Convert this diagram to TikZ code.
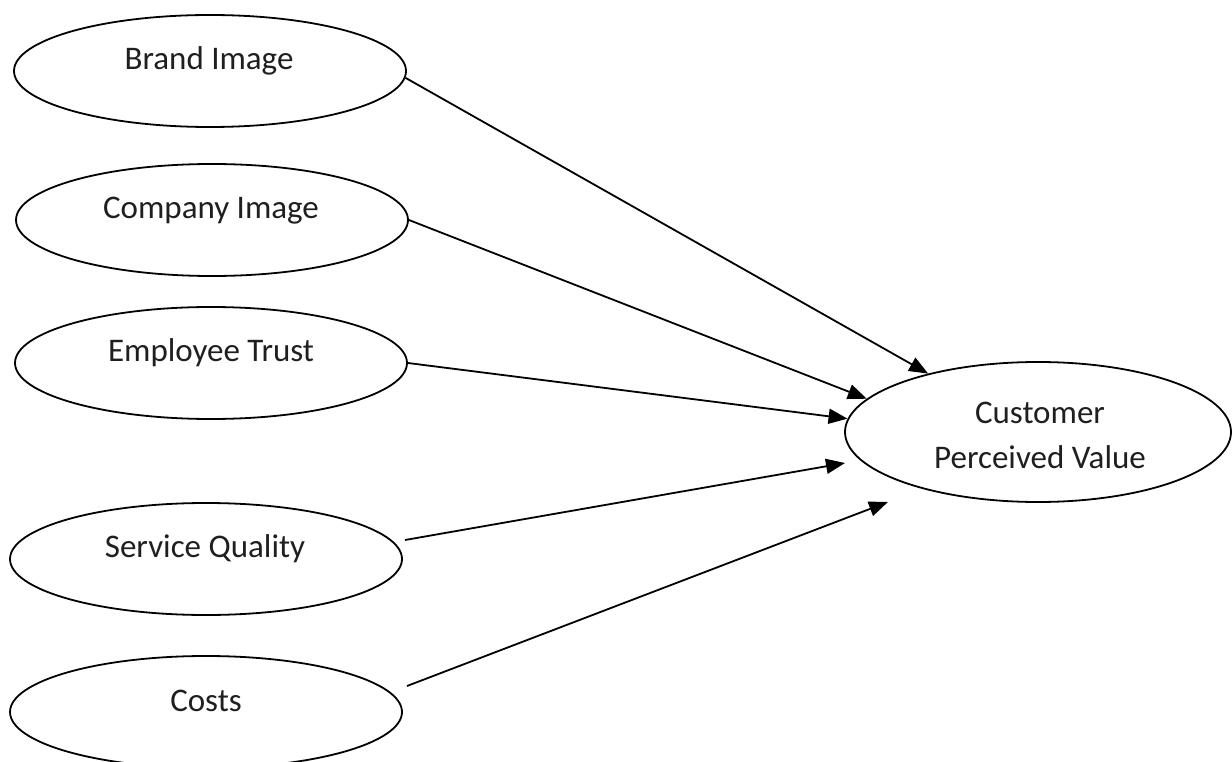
\documentclass[tikz,border=0pt]{standalone}
\usepackage{fontspec}
\setmainfont{Carlito}
\usetikzlibrary{shapes.geometric,arrows.meta}
\begin{document}
\begin{tikzpicture}[x=1pt,y=-1pt,
  oval/.style={draw=black,line width=1.8pt,ellipse,inner sep=0pt,minimum width=392pt,minimum height=112pt},
  lbl/.style={font=\fontsize{33}{45}\selectfont,text=black!88,inner sep=0pt,align=center},
  arr/.style={draw=black,line width=1.8pt,-{Triangle[length=19pt,width=15pt]}}]
\useasboundingbox (0,0) rectangle (1232,762);
\fill[white] (0,0) rectangle (1232,762);
\node[oval] (bi) at (210,71) {};
\node[oval] (ci) at (212,220) {};
\node[oval] (et) at (211,363) {};
\node[oval] (sq) at (206,559) {};
\node[oval] (co) at (206,712) {};
\node[oval,minimum width=386pt,minimum height=140pt] (cpv) at (1038,432) {};
\node[lbl] (bil) at (209,61) {Brand Image};
\node[lbl] (cil) at (211,211) {Company Image};
\node[lbl] (etl) at (211,353) {Employee Trust};
\node[lbl] (sql) at (205,549) {Service Quality};
\node[lbl] (col) at (206,701) {Costs};
\node[lbl] (cpvl) at (1040,435) {Customer\\Perceived Value};
\coordinate (sqs) at (405,540);
\coordinate (cos) at (407,686);
\coordinate (sqe) at (845,463);
\coordinate (coe) at (888,502);
\draw[arr] (bi.-2.6) -- (cpv.152.2);
\draw[arr] (ci.east) -- (cpv.169.5);
\draw[arr] (et.east) -- (cpv.176.5);
\draw[arr] (sqs) -- (sqe);
\draw[arr] (cos) -- (coe);
\end{tikzpicture}
\end{document}
